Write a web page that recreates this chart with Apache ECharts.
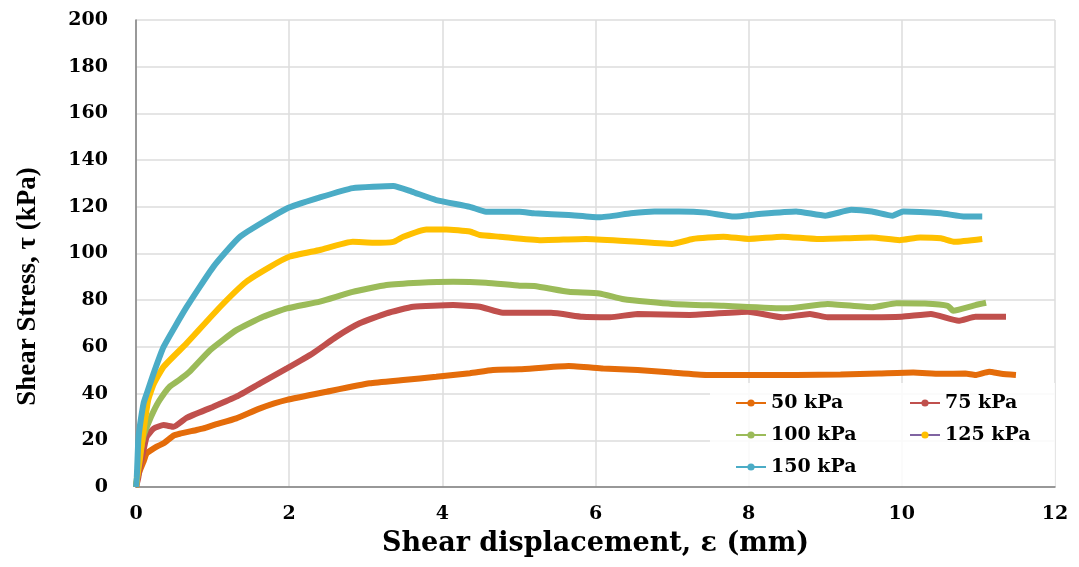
<!DOCTYPE html>
<html>
<head>
<meta charset="utf-8">
<title>Shear stress vs shear displacement</title>
<script src="https://cdn.jsdelivr.net/npm/echarts@6/dist/echarts.min.js"></script>
<style>
	html, body { margin: 0; padding: 0; background: #fff; }
	#myChart { width: 1079px; height: 567px; }
</style>
</head>
<body>
<div id="myChart"></div>
<script>
// 图例名称
var seriesNames = ['50 kPa', '75 kPa', '100 kPa', '125 kPa', '150 kPa'];
var seriesColors = ['#E46C0A', '#C0504D', '#9BBB59', '#FFC000', '#4BACC6'];
var xTicks = [0, 2, 4, 6, 8, 10, 12];
var yTicks = [0, 20, 40, 60, 80, 100, 120, 140, 160, 180, 200];

// 50 kPa
var x50 = [0, 0.02, 0.05, 0.1, 0.14, 0.27, 0.36, 0.49, 0.57, 0.79, 0.88, 1.01, 1.31, 1.62, 1.97, 2.49, 3.05, 3.49, 3.92, 4.36, 4.66, 5.01, 5.65, 6.1, 6.55, 7.0, 7.45, 8.0, 8.62, 9.2, 9.7, 10.15, 10.5, 10.83, 10.96, 11.14, 11.3, 11.49];
var y50 = [0, 4, 7, 11, 14.4, 17.3, 18.7, 22, 22.8, 24.4, 25.1, 26.5, 29.4, 33.7, 37.3, 40.8, 44.4, 45.8, 47.2, 48.7, 50.1, 50.4, 51.8, 50.8, 50.1, 49, 48, 48, 48, 48.2, 48.6, 49, 48.5, 48.6, 48, 49.4, 48.5, 48];
// 75 kPa
var x75 = [0, 0.03, 0.05, 0.1, 0.14, 0.23, 0.36, 0.49, 0.66, 1.01, 1.31, 1.62, 1.97, 2.31, 2.62, 2.92, 3.27, 3.62, 4.14, 4.49, 4.79, 5.42, 5.83, 6.19, 6.55, 7.23, 7.99, 8.44, 8.8, 9.03, 9.48, 10.0, 10.38, 10.74, 10.96, 11.36];
var y75 = [0, 4, 8.7, 16, 21.5, 25, 26.5, 25.8, 29.6, 34.4, 38.7, 44.4, 50.8, 57.3, 64.4, 70.1, 74.4, 77.2, 77.9, 77.2, 74.6, 74.6, 72.9, 72.7, 74.1, 73.7, 75.1, 72.7, 74.1, 72.7, 72.7, 72.9, 74.1, 71.2, 72.9, 72.9];
// 100 kPa
var x100 = [0, 0.02, 0.04, 0.07, 0.1, 0.16, 0.23, 0.31, 0.44, 0.57, 0.7, 0.97, 1.31, 1.66, 1.97, 2.4, 2.83, 3.27, 3.7, 4.14, 4.57, 5.01, 5.2, 5.65, 6.05, 6.37, 7.0, 7.67, 8.49, 9.03, 9.61, 9.93, 10.3, 10.6, 10.67, 10.96, 11.1];
var y100 = [0, 6, 12, 17.3, 22, 27.3, 32.5, 37.3, 43, 46, 49.4, 58.7, 67.2, 72.9, 76.5, 79.4, 83.6, 86.5, 87.5, 87.9, 87.5, 86.2, 86.1, 83.6, 82.9, 80.4, 78.4, 77.6, 76.5, 78.4, 77, 78.7, 78.6, 77.6, 75.5, 77.9, 78.9];
// 125 kPa
var x125 = [0, 0.02, 0.05, 0.1, 0.16, 0.23, 0.36, 0.66, 1.1, 1.44, 1.75, 2.0, 2.4, 2.83, 3.1, 3.36, 3.49, 3.79, 4.05, 4.36, 4.49, 4.75, 5.29, 5.87, 6.32, 7.0, 7.27, 7.67, 8.0, 8.44, 8.89, 9.61, 9.97, 10.24, 10.51, 10.69, 11.05];
var y125 = [0, 5, 11.6, 24.4, 37.3, 44, 51.5, 61.5, 77.2, 87.9, 94.3, 98.6, 101.5, 105, 104.6, 105, 107.2, 110.3, 110.3, 109.4, 107.9, 107.2, 105.7, 106.2, 105.5, 104.1, 106.2, 107.2, 106.2, 107.2, 106.2, 106.9, 105.7, 106.9, 106.5, 105, 106.2];
// 150 kPa
var x150 = [0, 0.01, 0.02, 0.03, 0.05, 0.1, 0.14, 0.23, 0.36, 0.66, 1.01, 1.36, 1.97, 2.4, 2.83, 3.36, 3.6, 3.92, 4.36, 4.57, 5.01, 5.2, 5.65, 6.05, 6.46, 6.77, 7.09, 7.45, 7.81, 8.17, 8.62, 9.0, 9.34, 9.61, 9.88, 10.02, 10.51, 10.83, 11.05];
var y150 = [0, 4, 12, 20, 26, 36, 40, 48.7, 60, 77, 94.3, 107.2, 119.3, 124, 128, 128.9, 126.5, 122.9, 120, 117.9, 117.9, 117.2, 116.5, 115.5, 117.2, 118, 118, 117.5, 115.8, 117, 118, 116.2, 118.7, 118, 116.2, 118, 117.2, 115.8, 115.8];

var allX = [x50, x75, x100, x125, x150];
var allY = [y50, y75, y100, y125, y150];

(function(window, undefined) {
	//拼接坐标点
	var toPairs = function(xs, ys) {
		var out = [];
		for (var i = 0; i < xs.length; i++) {
			out.push([xs[i], ys[i]]);
		}
		return out;
	};

	var serif = 'DejaVu Serif';
	var series = [];
	var legendData = [];
	for (var k = 0; k < seriesNames.length; k++) {
		series.push({
			name: seriesNames[k],
			type: 'line',
			data: toPairs(allX[k], allY[k]),
			smooth: 0.15,
			showSymbol: false,
			symbol: 'circle',
			symbolSize: 8,
			color: seriesColors[k],
			lineStyle: { width: 6, color: seriesColors[k] },
			itemStyle: { color: seriesColors[k] },
			emphasis: { disabled: true }
		});
		var item = { name: seriesNames[k] };
		// Excel legend quirk: 125 kPa key has a purple line
		if (seriesNames[k] === '125 kPa') {
			item.lineStyle = { color: '#8064A2', width: 2 };
		}
		legendData.push(item);
	}

	var myChart = echarts.init(document.getElementById('myChart'), null, { renderer: 'canvas' });
	var option = {
		backgroundColor: '#fff',
		animation: false,
		grid: { left: 136, right: 24, top: 20, bottom: 80 },
		graphic: [{
			type: 'rect',
			z: 1,
			shape: { x: 710, y: 383, width: 345, height: 103 },
			style: { fill: 'rgba(255,255,255,0.85)' }
		}],
		legend: {
			left: 735,
			top: 387,
			width: 350,
			padding: 0,
			itemGap: 0,
			itemWidth: 30,
			itemHeight: 9,
			data: legendData,
			lineStyle: { width: 2 },
			textStyle: {
				fontFamily: serif,
				fontWeight: 'bold',
				fontSize: 19,
				color: '#000',
				width: 138,
				lineHeight: 32
			}
		},
		xAxis: {
			type: 'value',
			min: xTicks[0],
			max: xTicks[xTicks.length - 1],
			interval: 2,
			name: 'Shear displacement, ε (mm)',
			nameLocation: 'middle',
			nameGap: 43,
			nameTextStyle: { fontFamily: serif, fontWeight: 'bold', fontSize: 27, color: '#000' },
			axisLine: { lineStyle: { color: '#7f7f7f', width: 1.5 } },
			axisTick: { show: false },
			axisLabel: { margin: 18, fontFamily: serif, fontWeight: 'bold', fontSize: 19, color: '#000' },
			splitLine: { show: true, lineStyle: { color: '#dcdcdc', width: 1.5 } }
		},
		yAxis: {
			type: 'value',
			min: yTicks[0],
			max: yTicks[yTicks.length - 1],
			interval: 20,
			name: 'Shear Stress, τ (kPa)',
			nameLocation: 'middle',
			nameGap: 94,
			nameTextStyle: {
				fontFamily: 'Liberation Serif',
				fontWeight: 'bold',
				fontSize: 27,
				color: '#000',
				padding: [0, 66, 0, 0]
			},
			axisLine: { show: true, lineStyle: { color: '#7f7f7f', width: 1.5 } },
			axisTick: { show: false },
			axisLabel: { margin: 28, fontFamily: serif, fontWeight: 'bold', fontSize: 19, color: '#000' },
			splitLine: { show: true, lineStyle: { color: '#dcdcdc', width: 1.5 } }
		},
		series: series
	};
	/* 使用刚指定的配置项和数据显示图表。*/
	myChart.setOption(option);
})(window);
</script>
</body>
</html>
